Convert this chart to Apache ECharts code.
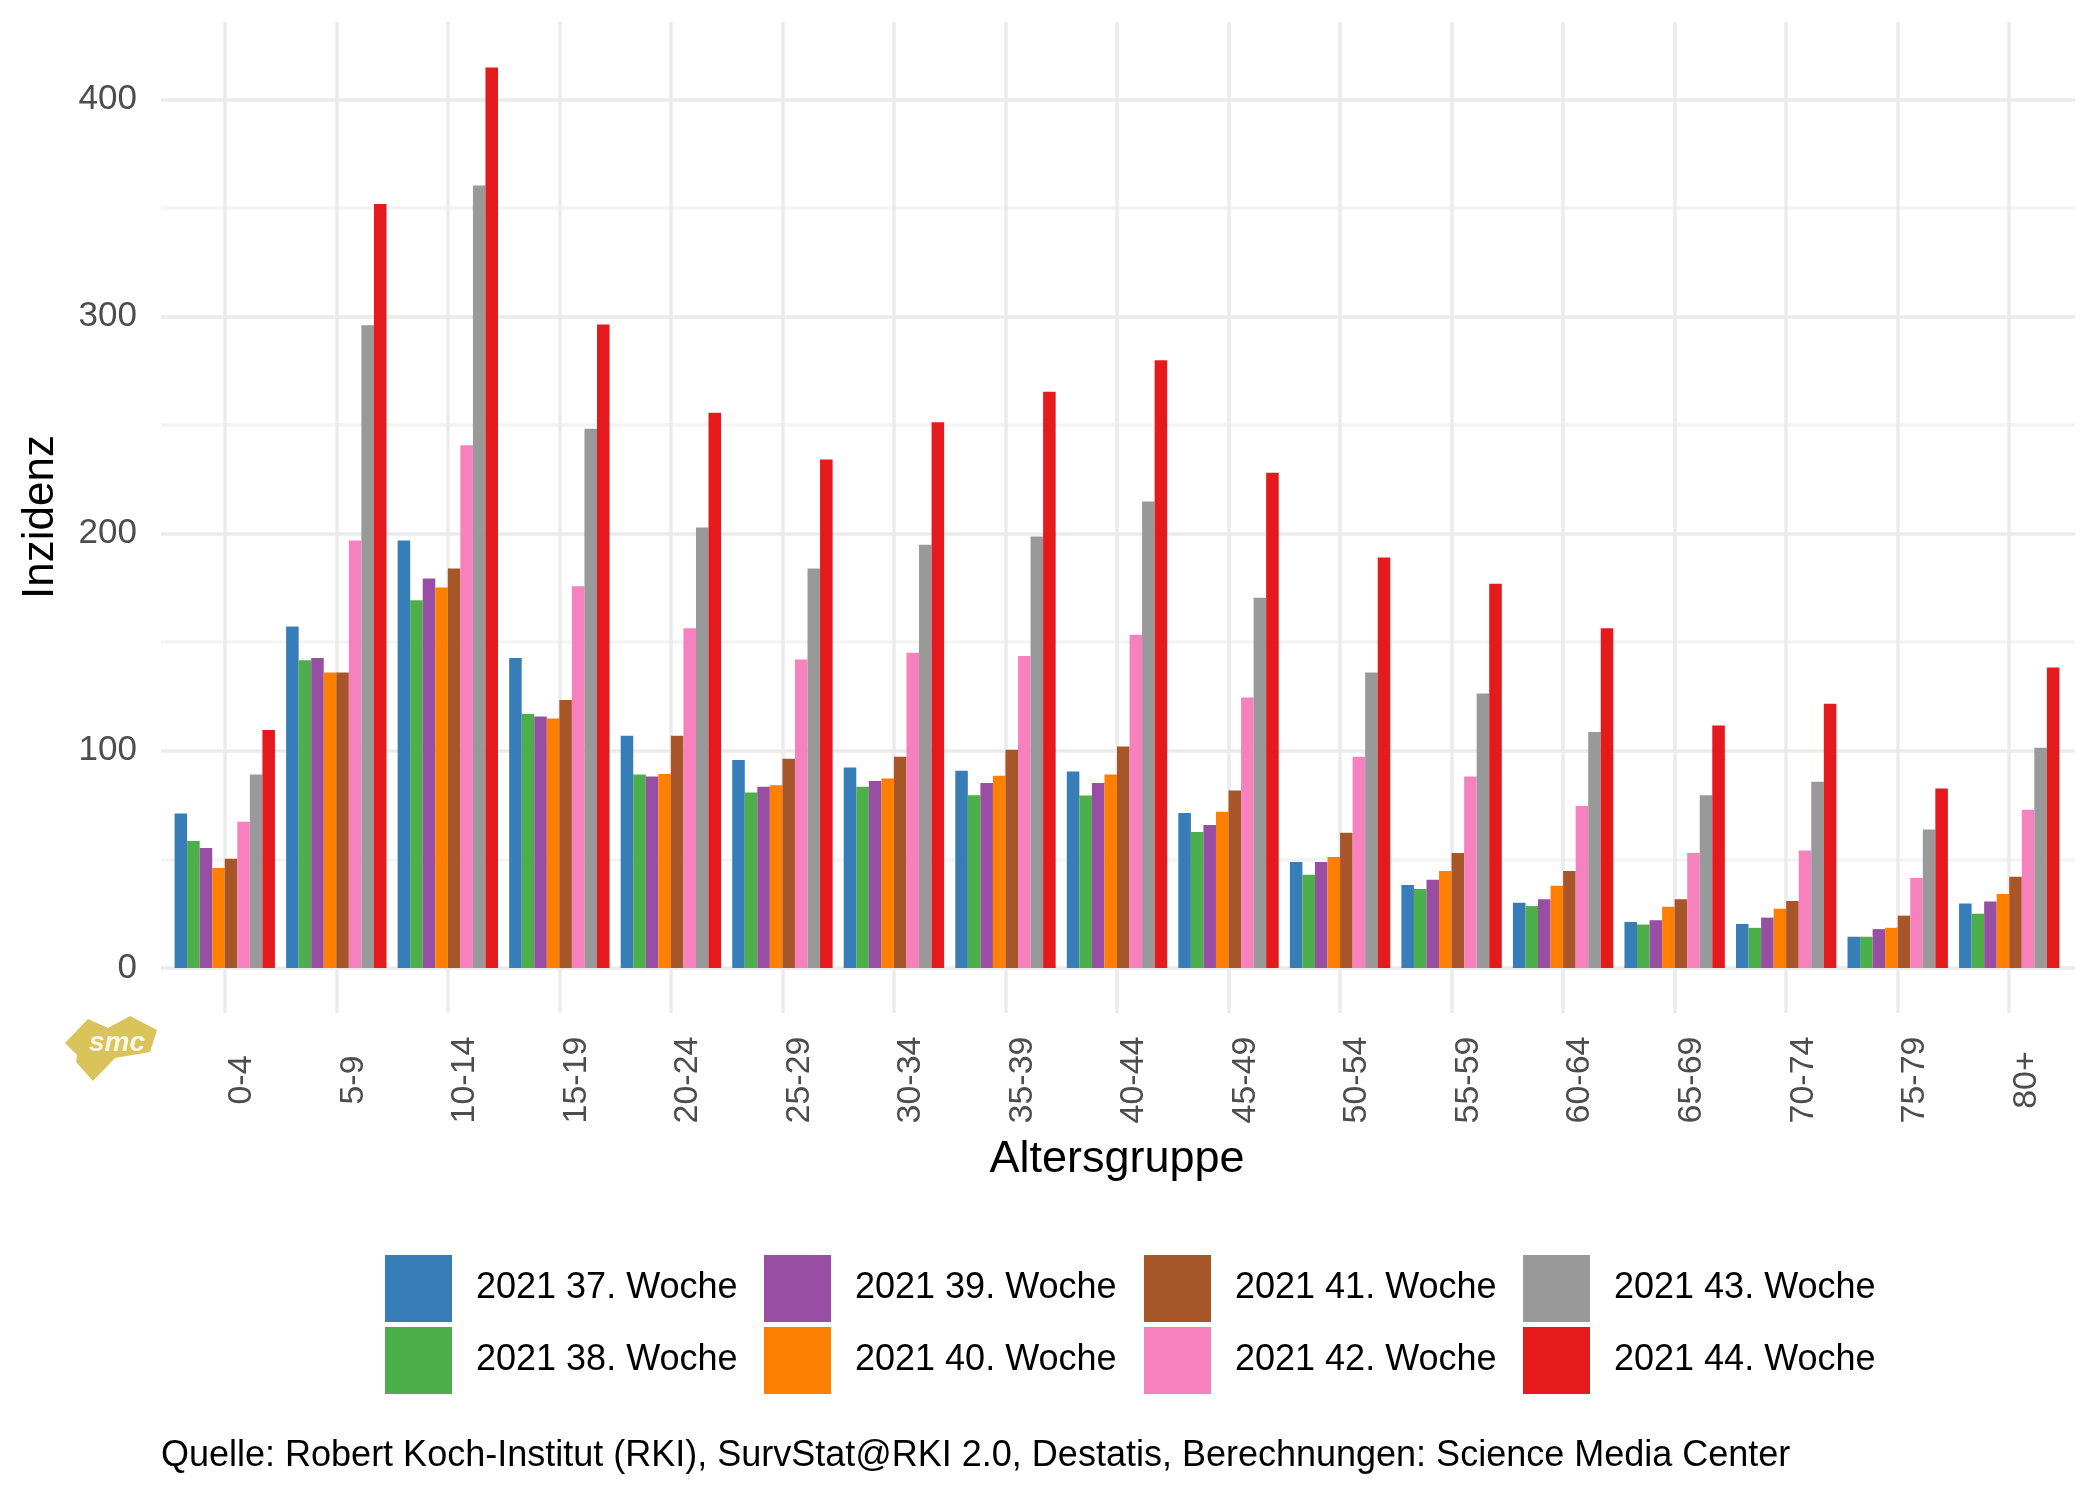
<!DOCTYPE html>
<html>
<head>
<meta charset="utf-8">
<script src="https://cdn.jsdelivr.net/npm/echarts@6/dist/echarts.min.js"></script>
<style>
html,body{margin:0;padding:0;background:#fff;}
#chart{width:2100px;height:1499px;}
</style>
</head>
<body>
<div id="chart"></div>
<script>
const ageGroups = ['0-4','5-9','10-14','15-19','20-24','25-29','30-34','35-39','40-44','45-49','50-54','55-59','60-64','65-69','70-74','75-79','80+'];
const weekNames = ['2021 37. Woche','2021 38. Woche','2021 39. Woche','2021 40. Woche','2021 41. Woche','2021 42. Woche','2021 43. Woche','2021 44. Woche'];
const week37 = [71.1,157.2,196.9,142.8,107.0,95.8,92.3,90.8,90.5,71.4,48.8,38.2,30.0,21.2,20.3,14.4,29.7];
const week38 = [58.5,141.7,169.3,117.0,89.1,80.8,83.5,79.6,79.4,62.6,42.9,36.4,28.5,20.0,18.5,14.4,25.0];
const week39 = [55.3,142.8,179.3,115.8,88.2,83.5,86.1,85.2,85.2,65.8,48.8,40.6,31.7,22.0,23.2,17.9,30.6];
const week40 = [46.1,136.1,175.2,114.9,89.3,84.1,87.3,88.5,89.1,72.0,51.1,44.7,37.9,28.2,27.3,18.5,34.1];
const week41 = [50.3,136.1,184.0,123.4,107.0,96.4,97.3,100.5,102.0,81.7,62.3,52.9,44.7,31.7,30.9,24.1,42.0];
const week42 = [67.3,196.9,240.7,175.8,156.4,142.0,145.2,143.7,153.4,124.6,97.3,88.2,74.6,52.9,54.1,41.4,72.9];
const week43 = [89.1,296.0,360.3,248.3,202.8,184.0,194.9,198.7,214.8,170.5,136.1,126.4,108.7,79.6,85.8,63.8,101.4];
const week44 = [109.6,351.8,414.7,296.3,255.7,234.2,251.3,265.4,279.8,228.1,189.0,176.9,156.4,111.7,121.7,82.6,138.4];
const colors = ['#377EB8','#4DAF4A','#984EA3','#FF7F00','#A65628','#F781BF','#999999','#E41A1C'];
const yTicks = [0,100,200,300,400];

const allWeeks = [week37,week38,week39,week40,week41,week42,week43,week44];
const FONT = "'Liberation Sans', Arial, Helvetica, sans-serif";
const Y_MAX = 435.6;

const chart = echarts.init(document.getElementById('chart'), null, {renderer:'canvas'});

const series = allWeeks.map((d,i)=>({
  name: weekNames[i],
  type: 'bar',
  xAxisIndex: 0,
  yAxisIndex: 0,
  data: d,
  itemStyle: {color: colors[i]},
  barGap: '0%',
  barCategoryGap: '10%',
  emphasis: {disabled: true}
}));

const legendLefts = [380, 759, 1139, 1518];
const legends = legendLefts.map((l,k)=>({
  orient: 'vertical',
  left: l,
  top: 1250,
  itemWidth: 67,
  itemHeight: 67,
  itemGap: 5,
  icon: 'rect',
  selectedMode: false,
  data: [weekNames[2*k], weekNames[2*k+1]],
  textStyle: {fontFamily: FONT, fontSize: 36, color: '#000', padding: [0,0,0,19]}
}));

const gridLineColor = '#ebebeb';

const option = {
  animation: false,
  backgroundColor: '#fff',
  color: colors,
  grid: [
    {left: 169, right: 35, top: 22, bottom: 1499-968},
    {left: 169, right: 35, top: 968, bottom: 1499-1013},
    {left: 161, right: 25, top: 22, bottom: 1499-968}
  ],
  xAxis: [
    {
      type: 'category', gridIndex: 0, data: ageGroups,
      axisLine: {show: false}, axisTick: {show: false}, axisLabel: {show: false},
      splitLine: {show: true, alignWithLabel: true, lineStyle: {color: gridLineColor, width: 3.5}}
    },
    {
      type: 'category', gridIndex: 1, data: ageGroups,
      axisLine: {show: false}, axisTick: {show: false},
      axisLabel: {show: true, rotate: 90, margin: 67, fontFamily: FONT, fontSize: 34, color: '#4d4d4d',
                  align: 'center', verticalAlign: 'top', lineHeight: 34, interval: 0},
      splitLine: {show: true, alignWithLabel: true, lineStyle: {color: gridLineColor, width: 3.5}},
      name: 'Altersgruppe', nameLocation: 'middle', nameGap: 124, nameMoveOverlap: false,
      nameTextStyle: {fontFamily: FONT, fontSize: 45, color: '#000'}
    },
    {
      type: 'value', gridIndex: 2, min: 0, max: 1, show: false
    }
  ],
  yAxis: [
    {
      type: 'value', gridIndex: 0, min: 0, max: Y_MAX, show: false,
      splitLine: {show: false}
    },
    {
      type: 'value', gridIndex: 1, min: 0, max: 1, show: false
    },
    {
      type: 'value', gridIndex: 2, min: 0, max: Y_MAX, interval: 50,
      axisLine: {show: false}, axisTick: {show: false},
      axisLabel: {margin: 24, fontFamily: FONT, fontSize: 35, color: '#4d4d4d',
                  formatter: v => yTicks.includes(v) ? String(v) : '', showMaxLabel: false},
      splitLine: {show: true, showMaxLine: false, lineStyle: {color: [gridLineColor,'#f4f4f4'], width: 3.5}}
    }
  ],
  legend: legends,
  series: series,
  graphic: [
    {
      type: 'text', x: 41, y: 517, rotation: Math.PI/2,
      style: {text: 'Inzidenz', font: "44px 'Liberation Sans', Arial, sans-serif", fill: '#000',
              align: 'center', verticalAlign: 'middle'}
    },
    {
      type: 'text', left: 161, top: 1438,
      style: {text: 'Quelle: Robert Koch-Institut (RKI), SurvStat@RKI 2.0, Destatis, Berechnungen: Science Media Center',
              font: "36px 'Liberation Sans', Arial, sans-serif", fill: '#000'}
    },
    {
      type: 'group', left: 65, top: 1016,
      children: [
        {type: 'polygon', shape: {points: [[0,27],[23,3],[43,12],[65,0],[92,14],[85,36],[50,42],[28,65],[11,46],[12,39]]},
         style: {fill: '#D9C35A'}},
        {type: 'text', x: 52, y: 27, style: {text: 'smc', font: "italic bold 28px 'Liberation Sans', Arial, sans-serif",
         fill: '#fff', align: 'center', verticalAlign: 'middle', opacity: 0.85}}
      ]
    }
  ]
};
chart.setOption(option);
</script>
</body>
</html>
